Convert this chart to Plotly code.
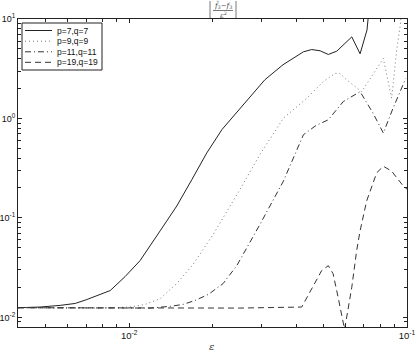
import plotly.graph_objects as go

# ---------------- data ----------------
names = ["p=7,q=7", "p=9,q=9", "p=11,q=11", "p=19,q=19"]

eps_7 = [0.00398, 0.00478, 0.00565, 0.00640, 0.00704, 0.00774, 0.00855, 0.00967,
         0.01095, 0.01293, 0.01484, 0.01685, 0.01903, 0.0216, 0.0251, 0.0308,
         0.0358, 0.0424, 0.0454, 0.0487, 0.0521, 0.0559, 0.0633, 0.0678, 0.0718, 0.0729]
val_7 = [0.0125, 0.0127, 0.0132, 0.0138, 0.0151, 0.0166, 0.0186, 0.0257,
         0.0372, 0.0741, 0.1318, 0.245, 0.450, 0.776, 1.268, 2.45,
         3.47, 4.68, 4.93, 4.79, 4.40, 4.75, 6.61, 4.47, 7.76, 12.0]

eps_9 = [0.00398, 0.00786, 0.01008, 0.01142, 0.01293, 0.01484, 0.01703, 0.0201,
         0.0251, 0.0296, 0.0359, 0.0436, 0.0499, 0.0551, 0.0574, 0.0607, 0.0687,
         0.0822, 0.0881, 0.0918, 0.0944, 0.0955]
val_9 = [0.0125, 0.0124, 0.0127, 0.0135, 0.0154, 0.0219, 0.0344, 0.0687,
         0.195, 0.437, 1.007, 1.596, 2.34, 2.84, 2.84, 2.44, 1.86,
         4.01, 1.60, 4.86, 8.3, 11.2]

eps_11 = [0.00398, 0.01190, 0.01405, 0.01564, 0.01727, 0.01928, 0.0218, 0.0244,
          0.0296, 0.0359, 0.0424, 0.0471, 0.0521, 0.0590, 0.0678, 0.0755, 0.0822,
          0.0891, 0.0990]
val_11 = [0.0125, 0.0124, 0.0129, 0.0135, 0.0148, 0.0170, 0.0219, 0.0331,
          0.0865, 0.234, 0.687, 0.851, 0.970, 1.48, 1.86, 1.13, 0.713,
          1.27, 2.53]

eps_19 = [0.00398, 0.0250, 0.0418, 0.0459, 0.0493, 0.0521, 0.0542, 0.0565,
          0.0589, 0.0596, 0.0607, 0.0633, 0.0659, 0.0678, 0.0716, 0.0778, 0.0822,
          0.0881, 0.0970, 0.1000]
val_19 = [0.0125, 0.0124, 0.0127, 0.0201, 0.0295, 0.0331, 0.0275, 0.0160,
          0.00933, 0.0076, 0.0101, 0.0201, 0.0468, 0.0741, 0.148, 0.284, 0.331,
          0.295, 0.209, 0.195]

x_ticks = [0.01, 0.1]
x_ticktext = ["10<sup>-2</sup>", "10<sup>-1</sup>"]
x_minor = [0.004, 0.005, 0.006, 0.007, 0.008, 0.009,
           0.02, 0.03, 0.04, 0.05, 0.06, 0.07, 0.08, 0.09]
y_ticks = [0.01, 0.1, 1, 10]
y_ticktext = ["10<sup>-2</sup>", "10<sup>-1</sup>", "10<sup>0</sup>", "10<sup>1</sup>"]
y_minor = [0.008, 0.009] + [k * 0.01 for k in range(2, 10)] + \
          [k * 0.1 for k in range(2, 10)] + [k * 1.0 for k in range(2, 10)]

# ---------------- styling ----------------
W, H = 415, 351
L, R, T, B = 18, 407, 19, 327       # plot area in pixels
dashes = ["solid", "1px,3px", "6px,3px,1px,3px", "6px,4px"]
colors = ["#222222", "#777777", "#333333", "#333333"]
FONT = "Liberation Sans, Arial, sans-serif"


def px_x(p):
    return (p - L) / (R - L)


def px_y(p):
    return (B - p) / (B - T)


fig = go.Figure()
series = [(eps_7, val_7), (eps_9, val_9), (eps_11, val_11), (eps_19, val_19)]
for (xs, ys), nm, d, c in zip(series, names, dashes, colors):
    fig.add_trace(go.Scatter(x=xs, y=ys, mode="lines", name=nm,
                             line=dict(color=c, width=1, dash=d),
                             showlegend=False, hoverinfo="skip"))

axis_common = dict(type="log", showgrid=False, zeroline=False,
                   showline=True, linecolor="#222", linewidth=1, mirror="ticks",
                   ticks="inside", ticklen=4, tickcolor="#222",
                   automargin=False, ticklabeloverflow="allow")

fig.update_xaxes(range=[-2.4, -0.9999], tickmode="array", tickvals=x_ticks,
                 ticktext=x_ticktext,
                 tickfont=dict(family=FONT, size=9.5, color="#111"),
                 minor=dict(tickmode="array", tickvals=x_minor, ticks="inside",
                            ticklen=3, tickcolor="#222"),
                 **axis_common)
fig.update_yaxes(range=[-2.0969, 1.0001], tickmode="array", tickvals=y_ticks,
                 ticktext=y_ticktext,
                 tickfont=dict(family=FONT, size=9, color="#111"),
                 minor=dict(tickmode="array", tickvals=y_minor, ticks="inside",
                            ticklen=3, tickcolor="#222"),
                 **axis_common)

# ---------------- manual legend ----------------
shapes = []
annotations = []
shapes.append(dict(type="rect", xref="paper", yref="paper",
                   x0=px_x(22), x1=px_x(102), y0=px_y(70), y1=px_y(23),
                   line=dict(color="#222", width=1), fillcolor="white", layer="above"))
row_y = [30.5, 41.2, 51.8, 62.3]
for nm, d, c, ry in zip(names, dashes, colors, row_y):
    shapes.append(dict(type="line", xref="paper", yref="paper",
                       x0=px_x(25), x1=px_x(52), y0=px_y(ry), y1=px_y(ry),
                       line=dict(color=c, width=1, dash=d), layer="above"))
    annotations.append(dict(xref="paper", yref="paper", x=px_x(55), y=px_y(ry),
                            xanchor="left", yanchor="middle", showarrow=False,
                            text=nm, font=dict(family=FONT, size=8.5, color="#111")))

# ---------------- title (fraction with absolute bars) ----------------
SERIF = "DejaVu Serif, Liberation Serif, serif"
annotations.append(dict(xref="paper", yref="paper", x=px_x(223), y=px_y(5),
                        xanchor="center", yanchor="middle", showarrow=False,
                        text="<i>f̃</i><sub>3</sub>−<i>f</i><sub>3</sub>",
                        font=dict(family=SERIF, size=7, color="#444")))
annotations.append(dict(xref="paper", yref="paper", x=px_x(223), y=px_y(14.5),
                        xanchor="center", yanchor="middle", showarrow=False,
                        text="<i>ε</i><sup>2</sup>",
                        font=dict(family=SERIF, size=7, color="#444")))
shapes.append(dict(type="line", xref="paper", yref="paper",
                   x0=px_x(213), x1=px_x(233), y0=px_y(10.5), y1=px_y(10.5),
                   line=dict(color="#555", width=0.8)))
for bx in (210, 236):
    shapes.append(dict(type="line", xref="paper", yref="paper",
                       x0=px_x(bx), x1=px_x(bx), y0=px_y(1), y1=px_y(18),
                       line=dict(color="#555", width=0.8)))

# x label
annotations.append(dict(xref="paper", yref="paper", x=px_x(211), y=px_y(346),
                        xanchor="center", yanchor="middle", showarrow=False,
                        text="<i>ε</i>",
                        font=dict(family=SERIF, size=10, color="#333")))

fig.update_layout(width=W, height=H,
                  margin=dict(l=L, r=W - R, t=T, b=H - B, pad=0),
                  paper_bgcolor="white", plot_bgcolor="white",
                  showlegend=False, shapes=shapes, annotations=annotations,
                  hovermode=False)

fig.write_html("out.html", config={"displayModeBar": False, "staticPlot": True},
               post_script="document.body.style.margin='0';"
                           "document.body.style.padding='0';"
                           "document.body.style.overflow='hidden';")
